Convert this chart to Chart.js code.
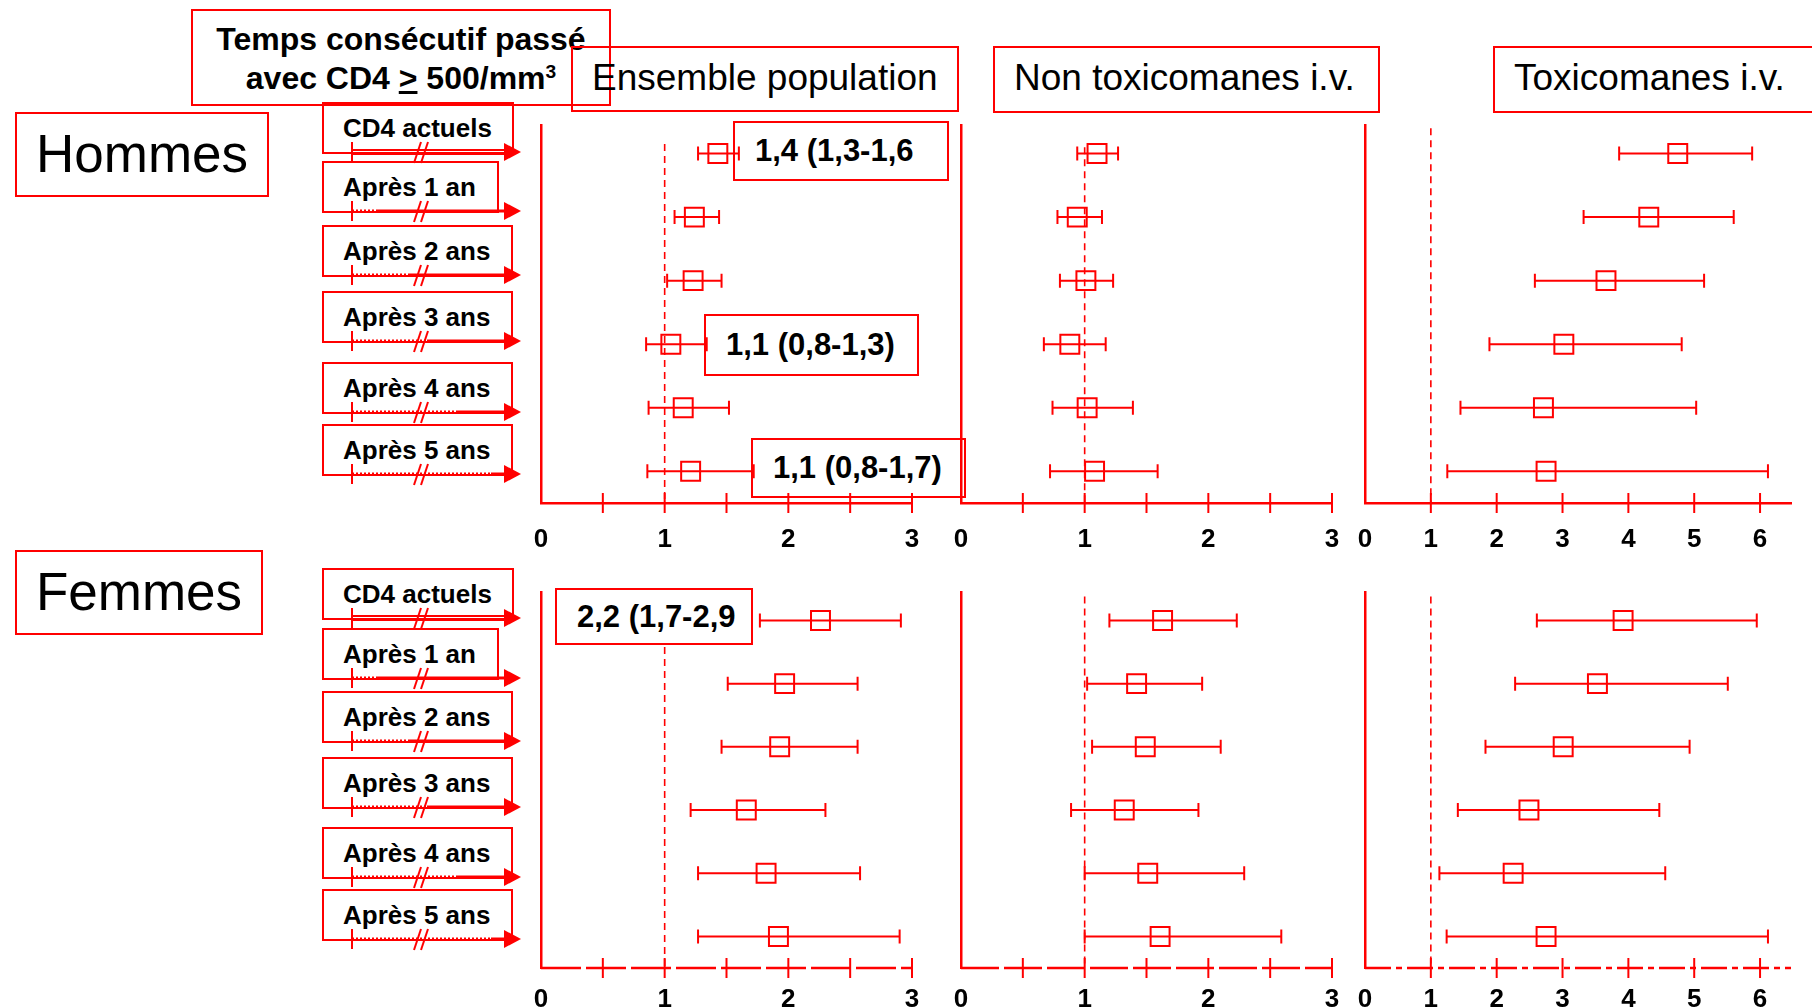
<!DOCTYPE html>
<html>
<head>
<meta charset="utf-8">
<script src="https://cdn.jsdelivr.net/npm/chart.js@4.4.0/dist/chart.umd.min.js"></script>
<style>
  html, body { margin: 0; padding: 0; background: #fff; }
  body { width: 1812px; height: 1007px; position: relative; overflow: hidden;
         font-family: "Liberation Sans", Arial, sans-serif; color: #000; }
  .box { position: absolute; border: 2px solid #ff0000; box-sizing: border-box; white-space: nowrap; }
  .annot { background: #fff; z-index: 1; font-weight: bold; font-size: 31px; }
  canvas { position: absolute; z-index: 2; }
  .lbl { z-index: 3; }
  .row { font-weight: bold; font-size: 26px; line-height: 48px; padding-left: 19px; }
  .grp { font-size: 53px; text-align: center; }
  .col { font-size: 37px; line-height: 60px; padding-left: 19px; }
  sup { font-size: 0.6em; vertical-align: 0.55em; line-height: 0; }
  svg { position: absolute; left: 0; top: 0; z-index: 4; }
</style>
</head>
<body>
<script>
// Données (odds ratios et IC 95 %)
const rowLabels = ['CD4 actuels', 'Après 1 an', 'Après 2 ans', 'Après 3 ans', 'Après 4 ans', 'Après 5 ans'];
const groupNames = ['Hommes', 'Femmes'];
const panelTitles = ['Ensemble population', 'Non toxicomanes i.v.', 'Toxicomanes i.v.'];

const hEnsOR = [1.43, 1.24, 1.23, 1.05, 1.15, 1.21];
const hEnsLo = [1.27, 1.08, 1.02, 0.85, 0.87, 0.86];
const hEnsHi = [1.60, 1.44, 1.46, 1.34, 1.52, 1.72];
const hNonOR = [1.10, 0.94, 1.01, 0.88, 1.02, 1.08];
const hNonLo = [0.94, 0.78, 0.80, 0.67, 0.74, 0.72];
const hNonHi = [1.27, 1.14, 1.23, 1.17, 1.39, 1.59];
const hToxOR = [4.75, 4.31, 3.66, 3.02, 2.71, 2.75];
const hToxLo = [3.86, 3.32, 2.58, 1.89, 1.45, 1.25];
const hToxHi = [5.88, 5.60, 5.15, 4.81, 5.03, 6.12];

const fEnsOR = [2.26, 1.97, 1.93, 1.66, 1.82, 1.92];
const fEnsLo = [1.77, 1.51, 1.46, 1.21, 1.27, 1.27];
const fEnsHi = [2.91, 2.56, 2.56, 2.30, 2.58, 2.90];
const fNonOR = [1.63, 1.42, 1.49, 1.32, 1.51, 1.61];
const fNonLo = [1.20, 1.02, 1.06, 0.89, 1.00, 1.00];
const fNonHi = [2.23, 1.95, 2.10, 1.92, 2.29, 2.59];
const fToxOR = [3.92, 3.53, 3.01, 2.49, 2.25, 2.75];
const fToxLo = [2.61, 2.28, 1.83, 1.41, 1.13, 1.24];
const fToxHi = [5.95, 5.51, 4.93, 4.47, 4.56, 6.12];

const ensTickLabels = [0, 1, 2, 3];
const ensTickMarks = [0.5, 1, 1.5, 2, 2.5, 3];
const toxTickLabels = [0, 1, 2, 3, 4, 5, 6];
const toxTickMarks = [1, 2, 3, 4, 5, 6];

const annotTexts = ['1,4 (1,3-1,6', '1,1 (0,8-1,3)', '1,1 (0,8-1,7)', '2,2 (1,7-2,9'];

// Mise en page
const RED = '#ff0000';
const FONT = '"Liberation Sans", Arial, sans-serif';
const GROUP_Y = [[125, 503], [592, 968]];
const PANEL_X = [[541, 912], [961, 1332], [1365, 1791]];
const Y_MIN = -0.45, Y_MAX = 5.5;
const LABEL_PAD = [13, 8];
const REF_TOP = [[-0.15, -0.1, -0.4], [0.42, -0.38, -0.38]];
const AXIS_DASH = [[], [[40, 5], [38, 5], [26, 5, 6, 5]]];
const BOX_OFF = [-52, -56, -56, -53, -46, -47];
const BOX_W = [192, 177, 191, 191, 191, 191];
const DOT_LEN = [0, 26, 58, 75, 105, 139];
const ANNOT_POS = [[733, 121, 216, 60], [704, 314, 215, 62], [751, 438, 215, 60], [555, 588, 198, 57]];

const rowPix = (g, i) => {
  const [t, b] = GROUP_Y[g];
  return t + (i - Y_MIN) * (b - t) / (Y_MAX - Y_MIN);
};

const addBox = (cls, x, y, w, h, html) => {
  const d = document.createElement('div');
  d.className = 'box ' + cls;
  Object.assign(d.style, { left: x + 'px', top: y + 'px', width: w + 'px', height: h + 'px' });
  d.innerHTML = html;
  document.body.appendChild(d);
  return d;
};

// Boîtes de titres
const t = addBox('lbl', 191, 9, 420, 97,
  'Temps consécutif passé<br>avec CD4 <u>&gt;</u> 500/mm<sup>3</sup>');
Object.assign(t.style, { fontWeight: 'bold', fontSize: '32px', lineHeight: '39px', textAlign: 'center', paddingTop: '9px' });
addBox('lbl col', 571, 46, 388, 66, panelTitles[0]);
addBox('lbl col', 993, 46, 387, 67, panelTitles[1]);
addBox('lbl col', 1493, 46, 330, 67, panelTitles[2]);
addBox('lbl grp', 15, 112, 254, 85, groupNames[0]).style.lineHeight = '80px';
addBox('lbl grp', 15, 550, 248, 85, groupNames[1]).style.lineHeight = '80px';

annotTexts.forEach((txt, k) => {
  const [x, y, w, h] = ANNOT_POS[k];
  const d = addBox('annot', x, y, w, h, txt);
  Object.assign(d.style, { lineHeight: (h - 4) + 'px', paddingLeft: '20px' });
});

// Étiquettes des lignes + flèches
const svgNS = 'http://www.w3.org/2000/svg';
const svg = document.createElementNS(svgNS, 'svg');
svg.setAttribute('width', 1812); svg.setAttribute('height', 1007);
document.body.appendChild(svg);
const sv = (tag, attrs) => {
  const e = document.createElementNS(svgNS, tag);
  for (const k in attrs) e.setAttribute(k, attrs[k]);
  svg.appendChild(e);
};

[0, 1].forEach(g => {
  rowLabels.forEach((lab, i) => {
    const top = Math.round(rowPix(g, i) + BOX_OFF[i]);
    addBox('lbl row', 322, top, BOX_W[i], 52, lab);
    const y = top + 50;
    sv('line', { x1: 352, y1: y - 10, x2: 352, y2: y + 10, stroke: RED, 'stroke-width': 2 });
    if (i === 0) {
      sv('line', { x1: 352, y1: y - 2, x2: 508, y2: y - 2, stroke: RED, 'stroke-width': 2 });
      sv('line', { x1: 352, y1: y + 2, x2: 508, y2: y + 2, stroke: RED, 'stroke-width': 2 });
    } else {
      if (DOT_LEN[i]) sv('line', { x1: 352, y1: y, x2: 352 + DOT_LEN[i], y2: y, stroke: RED, 'stroke-width': 3, 'stroke-dasharray': '2,2' });
      sv('line', { x1: 352 + DOT_LEN[i], y1: y, x2: 508, y2: y, stroke: RED, 'stroke-width': 3 });
    }
    sv('polygon', { points: `504,${y - 9} 521,${y} 504,${y + 9}`, fill: RED });
    sv('line', { x1: 414, y1: y + 11, x2: 421, y2: y - 10, stroke: RED, 'stroke-width': 2 });
    sv('line', { x1: 421, y1: y + 11, x2: 428, y2: y - 10, stroke: RED, 'stroke-width': 2 });
  });
});

// Graphiques
const forest = (lo, hi, marks, refTop, dash) => ({
  id: 'forest',
  beforeDatasetsDraw(chart) {
    const { ctx, scales: { x, y }, chartArea: a } = chart;
    const px = x.getPixelForValue(1);
    ctx.save();
    ctx.strokeStyle = RED; ctx.lineWidth = 1.6; ctx.setLineDash([7, 5]);
    ctx.beginPath(); ctx.moveTo(px, y.getPixelForValue(refTop)); ctx.lineTo(px, a.bottom); ctx.stroke();
    ctx.restore();
  },
  afterDatasetsDraw(chart) {
    const { ctx, scales: { x, y } } = chart;
    ctx.save();
    ctx.strokeStyle = RED; ctx.lineWidth = 2;
    lo.forEach((l, i) => {
      const py = y.getPixelForValue(i);
      const pl = x.getPixelForValue(l), ph = x.getPixelForValue(hi[i]);
      ctx.beginPath();
      ctx.moveTo(pl, py); ctx.lineTo(ph, py);
      ctx.moveTo(pl, py - 7); ctx.lineTo(pl, py + 7);
      ctx.moveTo(ph, py - 7); ctx.lineTo(ph, py + 7);
      ctx.stroke();
    });
    ctx.restore();
  },
  afterDraw(chart) {
    const { ctx, scales: { x }, chartArea: a } = chart;
    ctx.save();
    ctx.strokeStyle = RED;
    if (dash.length) {
      // axe des x en tirets (Femmes)
      ctx.lineWidth = 2.5; ctx.setLineDash(dash);
      ctx.beginPath(); ctx.moveTo(a.left, a.bottom); ctx.lineTo(a.right, a.bottom); ctx.stroke();
      ctx.setLineDash([]);
    }
    ctx.lineWidth = 2;
    marks.forEach(m => {
      const p = x.getPixelForValue(m);
      ctx.beginPath(); ctx.moveTo(p, a.bottom - 10); ctx.lineTo(p, a.bottom + 10); ctx.stroke();
    });
    ctx.restore();
  }
});

const makePanel = (g, p, or, lo, hi) => {
  const [x0, x1] = PANEL_X[p];
  const [top, bottom] = GROUP_Y[g];
  const isTox = p === 2;
  const cv = document.createElement('canvas');
  cv.width = x1 - x0 + 40; cv.height = bottom - top + 10 + 50;
  cv.style.left = (x0 - 20) + 'px'; cv.style.top = (top - 10) + 'px';
  document.body.appendChild(cv);
  const labels = isTox ? toxTickLabels : ensTickLabels;
  const dash = AXIS_DASH[g].length ? AXIS_DASH[g][p] : [];
  new Chart(cv, {
    type: 'scatter',
    data: {
      datasets: [{
        data: or.map((v, i) => ({ x: v, y: i })),
        pointStyle: 'rect', pointRadius: 13.4, pointHoverRadius: 13.4,
        backgroundColor: 'rgba(0,0,0,0)', borderColor: RED, borderWidth: 2
      }]
    },
    options: {
      responsive: false, animation: false, devicePixelRatio: 1,
      layout: { autoPadding: false, padding: { left: 20, right: 20, top: 10, bottom: 0 } },
      plugins: { legend: { display: false }, tooltip: { enabled: false } },
      scales: {
        x: {
          type: 'linear', min: 0, max: isTox ? 6.47 : 3,
          afterFit: s => { s.height = 50; s.paddingLeft = 0; s.paddingRight = 0; },
          grid: { display: false },
          border: { display: dash.length === 0, color: RED, width: 2.5 },
          ticks: {
            stepSize: isTox ? 1 : 0.5, autoSkip: false, maxRotation: 0, includeBounds: false,
            padding: LABEL_PAD[g], color: '#000', font: { family: FONT, weight: 'bold', size: 26 },
            callback: v => labels.includes(v) ? String(v) : ''
          }
        },
        y: {
          type: 'linear', min: Y_MIN, max: Y_MAX, reverse: true,
          afterFit: s => { s.width = 0; s.paddingTop = 0; s.paddingBottom = 0; },
          grid: { display: false }, ticks: { display: false },
          border: { display: true, color: RED, width: 2.5 }
        }
      }
    },
    plugins: [forest(lo, hi, isTox ? toxTickMarks : ensTickMarks, REF_TOP[g][p], dash)]
  });
};

makePanel(0, 0, hEnsOR, hEnsLo, hEnsHi);
makePanel(0, 1, hNonOR, hNonLo, hNonHi);
makePanel(0, 2, hToxOR, hToxLo, hToxHi);
makePanel(1, 0, fEnsOR, fEnsLo, fEnsHi);
makePanel(1, 1, fNonOR, fNonLo, fNonHi);
makePanel(1, 2, fToxOR, fToxLo, fToxHi);
</script>
</body>
</html>
